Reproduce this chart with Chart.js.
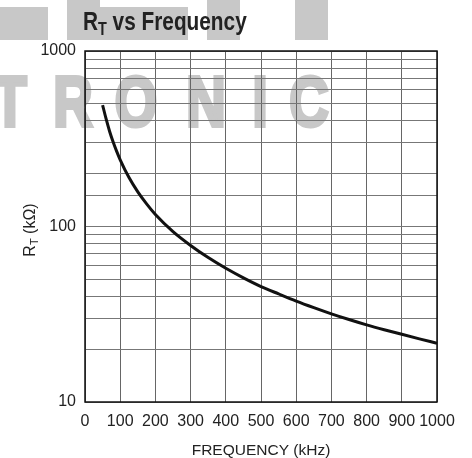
<!DOCTYPE html>
<html>
<head>
<meta charset="utf-8">
<script src="https://cdn.jsdelivr.net/npm/chart.js@4/dist/chart.umd.min.js"></script>
<style>
html,body{margin:0;padding:0;background:#fff;}
#wrap{width:472px;height:458px;position:relative;}
</style>
</head>
<body>
<div id="wrap"><canvas id="c" width="472" height="458"></canvas></div>
<script>
// Data
const frequencyKHz = [50, 60, 70, 80, 90, 100, 125, 150, 175, 200, 250, 300, 350, 400, 450, 500, 550, 600, 650, 700, 750, 800, 850, 900, 950, 1000];
const rtKOhm = [492, 410, 348, 303, 268, 240, 190, 157.5, 134.5, 117, 93.5, 78, 66.5, 57.8, 51, 45.5, 41.3, 37.6, 34.5, 31.8, 29.5, 27.5, 25.8, 24.3, 22.9, 21.6];
const xTickValues = [0, 100, 200, 300, 400, 500, 600, 700, 800, 900, 1000];
const yMajorTicks = [10, 100, 1000];
const titleMain = 'R';
const titleSub = 'T';
const titleRest = ' vs Frequency';
const xAxisTitle = 'FREQUENCY (kHz)';
const yAxisTitle = ['R', 'T', ' (kΩ)'];
const watermarkLetters = ['T', 'R', 'O', 'N', 'I', 'C'];

const points = frequencyKHz.map((f, i) => ({x: f, y: rtKOhm[i]}));

const watermark = {
  id: 'watermark',
  beforeDraw(chart) {
    const ctx = chart.ctx;
    ctx.save();
    ctx.fillStyle = '#c8c8c8';
    ctx.strokeStyle = '#c8c8c8';
    ctx.fillRect(0, 7, 48, 33);
    ctx.fillRect(67, 0, 33, 40);
    ctx.fillRect(100, 7, 88, 33);
    ctx.fillRect(207, 0, 33, 40);
    ctx.fillRect(295, 0, 33, 40);
    ctx.font = 'bold 70px "Liberation Sans", Arial, sans-serif';
    ctx.textAlign = 'center';
    ctx.textBaseline = 'alphabetic';
    ctx.lineWidth = 4;
    ctx.lineJoin = 'miter';
    const centers = [10, 73, 136, 206, 260, 309];
    watermarkLetters.forEach((ch, i) => {
      ctx.save();
      ctx.translate(centers[i], 126);
      ctx.scale(0.78, 1);
      ctx.fillText(ch, 0, 0);
      ctx.strokeText(ch, 0, 0);
      ctx.restore();
    });
    ctx.restore();
  }
};

const decorations = {
  id: 'decorations',
  afterDraw(chart) {
    const ctx = chart.ctx;
    const a = chart.chartArea;
    ctx.save();
    ctx.strokeStyle = '#111';
    ctx.lineWidth = 1.5;
    ctx.strokeRect(a.left, a.top, a.right - a.left, a.bottom - a.top);
    ctx.fillStyle = '#222';
    ctx.textBaseline = 'alphabetic';
    ctx.textAlign = 'left';
    ctx.save();
    ctx.translate(83, 30);
    ctx.scale(0.8, 1);
    let x = 0;
    const fBig = 'bold 26px "Liberation Sans", Arial, sans-serif';
    const fSub = 'bold 18px "Liberation Sans", Arial, sans-serif';
    ctx.font = fBig;
    ctx.fillText(titleMain, x, 0);
    x += ctx.measureText(titleMain).width;
    ctx.font = fSub;
    ctx.fillText(titleSub, x, 5);
    x += ctx.measureText(titleSub).width;
    ctx.font = fBig;
    ctx.fillText(titleRest, x, 0);
    ctx.restore();
    ctx.font = '15.5px "Liberation Sans", Arial, sans-serif';
    ctx.textAlign = 'center';
    ctx.fillText(xAxisTitle, 261, 455);
    ctx.translate(35, 230);
    ctx.rotate(-Math.PI / 2);
    const fy = '16px "Liberation Sans", Arial, sans-serif';
    const fys = '11px "Liberation Sans", Arial, sans-serif';
    ctx.font = fy; const w0 = ctx.measureText(yAxisTitle[0]).width;
    ctx.font = fys; const w1 = ctx.measureText(yAxisTitle[1]).width;
    ctx.font = fy; const w2 = ctx.measureText(yAxisTitle[2]).width;
    let yx = -(w0 + w1 + w2) / 2;
    ctx.textAlign = 'left';
    ctx.font = fy; ctx.fillText(yAxisTitle[0], yx, 0); yx += w0;
    ctx.font = fys; ctx.fillText(yAxisTitle[1], yx, 3); yx += w1;
    ctx.font = fy; ctx.fillText(yAxisTitle[2], yx, 0);
    ctx.restore();
  }
};

new Chart(document.getElementById('c'), {
  type: 'line',
  data: {
    datasets: [{
      data: points,
      borderColor: '#111',
      borderWidth: 3,
      pointRadius: 0,
      fill: false,
      cubicInterpolationMode: 'monotone'
    }]
  },
  options: {
    responsive: false,
    animation: false,
    layout: {padding: {left: 0, top: 51, right: 35, bottom: 0}},
    plugins: {legend: {display: false}, tooltip: {enabled: false}, title: {display: false}},
    scales: {
      x: {
        type: 'linear', min: 0, max: 1000,
        afterFit(s) { s.height = 56; },
        afterBuildTicks(s) { s.ticks = xTickValues.map(v => ({value: v})); },
        grid: {color: '#666', lineWidth: 1, drawTicks: false},
        border: {display: false},
        ticks: {color: '#222', padding: 10, maxRotation: 0, autoSkip: false,
          font: {family: '"Liberation Sans", Arial, sans-serif', size: 16},
          callback: (v) => String(v)}
      },
      y: {
        type: 'logarithmic', min: 10, max: 1000,
        afterFit(s) { s.width = 85; },
        grid: {color: '#777', lineWidth: 1, drawTicks: false},
        border: {display: false},
        ticks: {color: '#222', padding: 9, autoSkip: false,
          font: {family: '"Liberation Sans", Arial, sans-serif', size: 16},
          callback: (v) => yMajorTicks.includes(v) ? String(v) : ''}
      }
    }
  },
  plugins: [watermark, decorations]
});
</script>
</body>
</html>
